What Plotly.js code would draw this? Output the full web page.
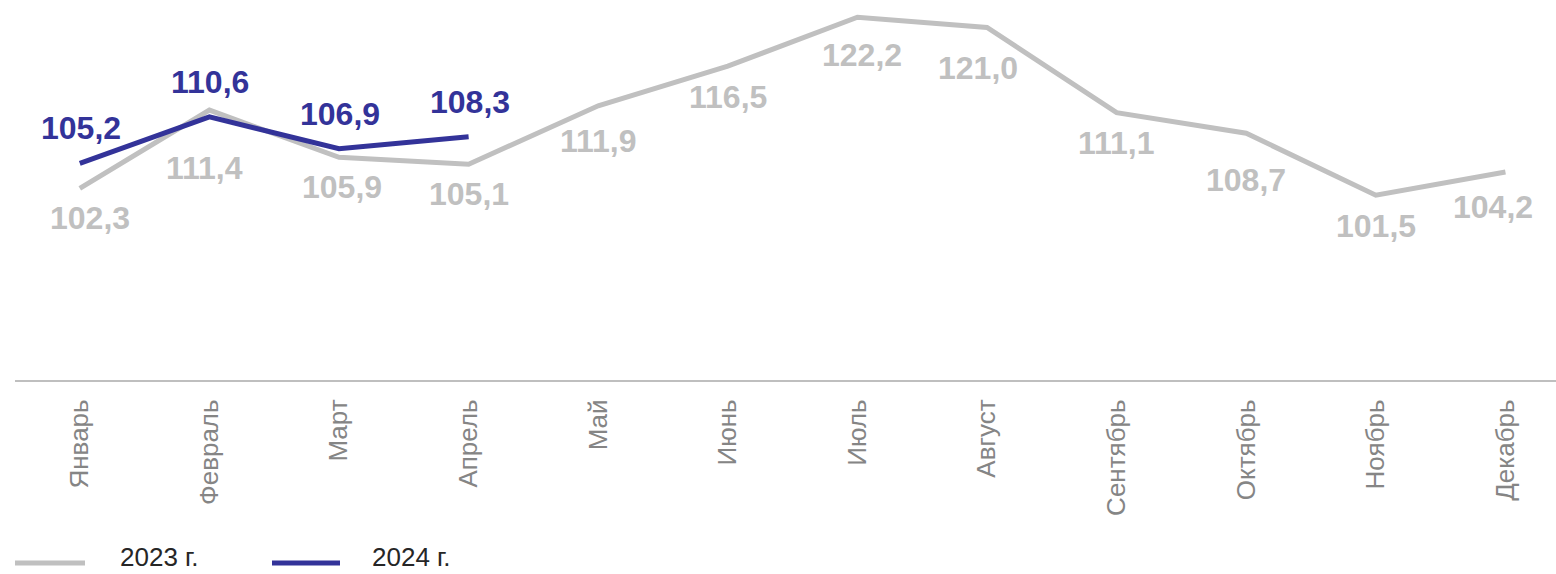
<!DOCTYPE html>
<html><head><meta charset="utf-8">
<script src="https://cdn.plot.ly/plotly-3.0.1.min.js"></script>
<style>html,body{margin:0;padding:0;background:#fff}#chart{width:1556px;height:574px}</style>
</head><body><div id="chart"></div>
<script>
const months = ["Январь","Февраль","Март","Апрель","Май","Июнь","Июль","Август","Сентябрь","Октябрь","Ноябрь","Декабрь"];
const values2023 = [102.3,111.4,105.9,105.1,111.9,116.5,122.2,121.0,111.1,108.7,101.5,104.2];
const months2024 = ["Январь","Февраль","Март","Апрель"];
const values2024 = [105.2,110.6,106.9,108.3];
const seriesNames = ["2023 г.","2024 г."];

const grey = "#c0c0c0", blue = "#333399";
const FONT = "Liberation Sans, Arial, sans-serif";
const fmt = v => v.toFixed(1).replace('.', ',');

// label offsets (px) for the 2023 labels, placed below the line
const shift23 = [-30,-58,-30,-30,-35,-31,-38,-40,-30,-47,-31,-35];
const xs23 = [10,-5,3,0,0,0,5,-9,0,0,0,-12];

const traces = [
  {x: months, y: values2023, type: "scatter", mode: "lines", name: seriesNames[0],
   line: {color: grey, width: 5}, hoverinfo: "skip"},
  {x: months2024, y: values2024, type: "scatter", mode: "lines", name: seriesNames[1],
   line: {color: blue, width: 5}, hoverinfo: "skip"}
];

const annotations = [];
values2023.forEach((v, i) => annotations.push({
  x: months[i], y: v, xref: "x", yref: "y", text: "<b>" + fmt(v) + "</b>",
  showarrow: false, yshift: shift23[i], xshift: xs23[i],
  font: {family: FONT, size: 32, color: grey}
}));
values2024.forEach((v, i) => annotations.push({
  x: months2024[i], y: v, xref: "x", yref: "y", text: "<b>" + fmt(v) + "</b>",
  showarrow: false, yshift: 35, xshift: 1,
  font: {family: FONT, size: 32, color: blue}
}));

// custom legend
const legendY = 563, textY = 557;
const py = y => (574 - 194 - y) / 380;
const shapes = [
  {type: "line", xref: "paper", yref: "paper", x0: 0/1541, x1: 70/1541, y0: py(legendY), y1: py(legendY), line: {color: grey, width: 5}},
  {type: "line", xref: "paper", yref: "paper", x0: 257/1541, x1: 325/1541, y0: py(legendY), y1: py(legendY), line: {color: blue, width: 5}}
];
annotations.push({xref: "paper", yref: "paper", x: 104/1541, y: py(textY), xanchor: "left", yanchor: "middle",
  text: seriesNames[0], showarrow: false, borderpad: 0, font: {family: FONT, size: 26, color: "#262626"}});
annotations.push({xref: "paper", yref: "paper", x: 356/1541, y: py(textY), xanchor: "left", yanchor: "middle",
  text: seriesNames[1], showarrow: false, borderpad: 0, font: {family: FONT, size: 26, color: "#262626"}});

const layout = {
  width: 1556, height: 574,
  margin: {l: 15, r: 0, t: 0, b: 194},
  paper_bgcolor: "#fff", plot_bgcolor: "#fff",
  showlegend: false,
  xaxis: {
    type: "category", categoryorder: "array", categoryarray: months,
    range: [-0.5, 11.39], showgrid: false, zeroline: false,
    showline: true, linecolor: "#bfbfbf", linewidth: 2,
    ticks: "", tickangle: -90, ticklabelstandoff: 7,
    tickfont: {family: FONT, size: 26, color: "#858585"}
  },
  yaxis: {range: [80, 124.2], visible: false, showgrid: false, zeroline: false},
  annotations: annotations, shapes: shapes
};
Plotly.newPlot("chart", traces, layout, {staticPlot: true, displayModeBar: false});
</script></body></html>
